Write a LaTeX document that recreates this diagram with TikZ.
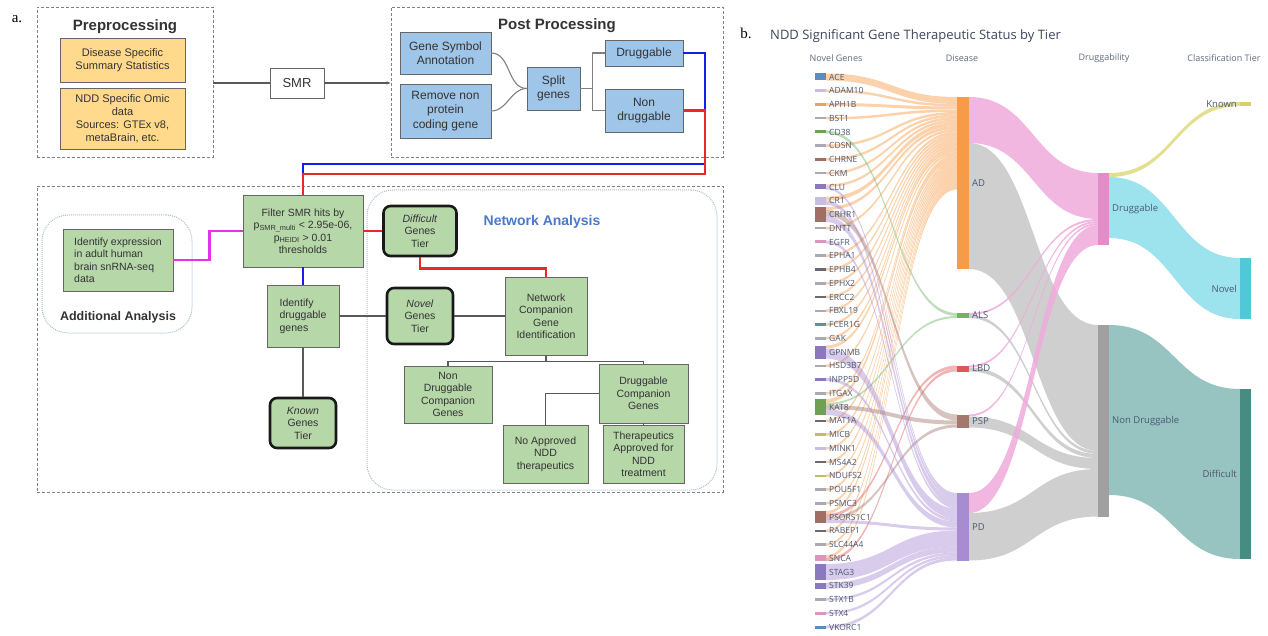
\documentclass[tikz,border=0pt]{standalone}
\usepackage{fontspec}
\setmainfont{Liberation Sans}
\newfontfamily\plotfont{Open Sans}
\newfontfamily\panelfont{Liberation Serif}
\usetikzlibrary{positioning,calc,arrows.meta}

\definecolor{preyellow}{RGB}{255,217,140}
\definecolor{postblue}{RGB}{159,197,232}
\definecolor{stepgreen}{RGB}{182,215,168}
\definecolor{netblue}{RGB}{74,120,205}
\definecolor{zoneblue}{RGB}{170,190,210}
\definecolor{wireblue}{RGB}{20,30,230}
\definecolor{wirered}{RGB}{235,40,40}
\definecolor{wiremagenta}{RGB}{230,50,230}
\definecolor{plottext}{RGB}{75,88,115}
\definecolor{plothead}{RGB}{95,105,125}
% sankey nodes
\definecolor{adc}{RGB}{246,156,72}
\definecolor{alsc}{RGB}{110,180,100}
\definecolor{lbdc}{RGB}{222,90,90}
\definecolor{pspc}{RGB}{165,120,110}
\definecolor{pdc}{RGB}{168,140,210}
\definecolor{drugc}{RGB}{228,140,200}
\definecolor{ndc}{RGB}{160,160,160}
\definecolor{knownc}{RGB}{215,205,110}
\definecolor{novelc}{RGB}{80,200,215}
\definecolor{diffc}{RGB}{70,140,130}
% sankey links
\definecolor{druglink}{RGB}{238,170,220}
\definecolor{ndlink}{RGB}{195,195,195}
\definecolor{knownlink}{RGB}{225,220,130}
\definecolor{novellink}{RGB}{140,222,235}
\definecolor{difflink}{RGB}{140,190,185}
% gene bars
\definecolor{gblue}{RGB}{91,141,190}
\definecolor{glav}{RGB}{200,190,225}
\definecolor{gorange}{RGB}{240,160,90}
\definecolor{ggray}{RGB}{170,170,180}
\definecolor{gdark}{RGB}{105,105,115}
\definecolor{ggreen}{RGB}{110,160,85}
\definecolor{gbrown}{RGB}{160,110,100}
\definecolor{gpurple}{RGB}{140,120,190}
\definecolor{gpink}{RGB}{220,150,190}
\definecolor{golive}{RGB}{190,190,100}
\definecolor{gteal}{RGB}{90,150,150}

% x1, top1, bottom1, x2, top2, bottom2, colour, opacity
\newcommand{\flowband}[8]{%
  \fill[fill=#7, fill opacity=#8] (#1,#2) .. controls ({(#1+#4)/2},#2) and ({(#1+#4)/2},#5) .. (#4,#5)
    -- (#4,#6) .. controls ({(#1+#4)/2},#6) and ({(#1+#4)/2},#3) .. (#1,#3) -- cycle;}

\begin{document}
\begin{tikzpicture}[x=1pt, y=-1pt,
  dashframe/.style={draw=black!50, densely dashed, line width=0.9pt},
  dotzone/.style={draw=zoneblue, densely dotted, line width=1pt, rounded corners=26pt},
  boxtext/.style={align=center, text=black!80, font=\fontsize{10.5}{12.5}\selectfont, inner sep=2pt},
  prebox/.style={boxtext, draw=black!60, fill=preyellow, font=\fontsize{11}{13}\selectfont},
  postbox/.style={boxtext, draw=black!60, fill=postblue, font=\fontsize{12}{14.5}\selectfont},
  stepbox/.style={boxtext, draw=black!60, fill=stepgreen},
  tierbox/.style={stepbox, draw=black!90, line width=2.6pt, rounded corners=7pt},
  headtext/.style={font=\bfseries\fontsize{15}{18}\selectfont, text=black!80},
  wire/.style={draw=black!65, line width=1.1pt},
  blueline/.style={draw=wireblue, line width=2.4pt},
  redline/.style={draw=wirered, line width=2.4pt},
  pinkline/.style={draw=wiremagenta, line width=2.8pt},
  genelab/.style={anchor=west, inner sep=0pt, text=plottext, font=\plotfont\fontsize{8.5}{9}\selectfont},
  plotlab/.style={inner sep=0pt, text=plottext, font=\plotfont\fontsize{9.5}{10}\selectfont},
  colhead/.style={plotlab, text=plothead, font=\plotfont\fontsize{9}{10}\selectfont},
]
\useasboundingbox (0,0) rectangle (1268,636);

% ===== a. WORKFLOW =====
\node[font=\panelfont\fontsize{15}{18}\selectfont] (alabel) at (17,19) {a.};

\node[dashframe, minimum width=176pt, minimum height=150pt] (preframe) at (125,82) {};
\node[dashframe, minimum width=332pt, minimum height=150pt] (postframe) at (557,82) {};
\node[dashframe, minimum width=686pt, minimum height=306pt] (mainframe) at (380,339) {};
\node[dotzone, minimum width=150pt, minimum height=118pt] (addzone) at (117,274) {};
\node[dotzone, minimum width=350pt, minimum height=300pt] (netzone) at (542,340) {};

\node[headtext] (pretitle) at (125,27) {Preprocessing};
\node[headtext] (posttitle) at (557,26) {Post Processing};
\node[headtext, font=\bfseries\fontsize{12.5}{15}\selectfont] (addtitle) at (118,317) {Additional Analysis};
\node[headtext, text=netblue, font=\bfseries\fontsize{14}{17}\selectfont] (nettitle) at (542,222) {Network Analysis};

% preprocessing
\node[prebox, minimum width=125pt, minimum height=44pt] (sumstats) at (122.5,60) {Disease Specific\\Summary Statistics};
\node[prebox, minimum width=125pt, minimum height=61pt] (omic) at (122.5,118.5) {NDD Specific Omic\\data\\Sources: GTEx v8,\\metaBrain, etc.};
\node[boxtext, draw=black!60, font=\fontsize{13}{15}\selectfont, minimum width=54pt, minimum height=30pt] (smr) at (297,83) {SMR};

% post processing
\node[postbox, minimum width=91pt, minimum height=42pt] (gsa) at (445.5,53) {Gene Symbol\\Annotation};
\node[postbox, minimum width=91pt, minimum height=54pt] (rmnc) at (445.5,111) {Remove non\\protein\\coding gene};
\node[postbox, minimum width=53pt, minimum height=43pt] (split) at (553.5,88.5) {Split\\genes};
\node[postbox, minimum width=78pt, minimum height=26pt] (drug) at (644,53) {Druggable};
\node[postbox, minimum width=78pt, minimum height=43pt] (nondrug) at (644,110.5) {Non\\druggable};

% filtering and tiers
\node[stepbox, align=left, minimum width=110pt, minimum height=62pt] (expr) at (118,260) {Identify expression\\in adult human\\brain snRNA-seq\\data};
\node[stepbox, minimum width=120pt, minimum height=72pt] (filter) at (303,231) {Filter SMR hits by\\p\textsubscript{SMR\_multi} < 2.95e-06,\\p\textsubscript{HEIDI} > 0.01\\thresholds};
\node[tierbox, minimum width=73pt, minimum height=50pt] (difficult) at (420,231) {\textit{Difficult}\\Genes\\Tier};
\node[stepbox, align=left, minimum width=72pt, minimum height=62pt] (idrug) at (303,316) {Identify\\druggable\\genes};
\node[tierbox, minimum width=66pt, minimum height=56pt] (novel) at (420,316) {\textit{Novel}\\Genes\\Tier};
\node[stepbox, minimum width=82pt, minimum height=78pt] (netcomp) at (546,316) {Network\\Companion\\Gene\\Identification};
\node[tierbox, minimum width=66pt, minimum height=50pt] (known) at (303,423) {\textit{Known}\\Genes\\Tier};
\node[stepbox, minimum width=88pt, minimum height=57pt] (ndcomp) at (448,394.5) {Non\\Druggable\\Companion\\Genes};
\node[stepbox, minimum width=89pt, minimum height=59pt] (dcomp) at (643.5,393.5) {Druggable\\Companion\\Genes};
\node[stepbox, minimum width=85pt, minimum height=58pt] (noappr) at (545.5,454) {No Approved\\NDD\\therapeutics};
\node[stepbox, minimum width=81pt, minimum height=58pt] (therap) at (643.5,454) {Therapeutics\\Approved for\\NDD\\treatment};

% connectors
\draw[wire] (preframe.east |- smr.west) -- (smr.west);
\draw[wire, -{Stealth[length=4pt]}] (smr.east) -- (postframe.west |- smr.east);
\draw[wire, draw=black!50] (gsa.east) to[out=0, in=180] (split.west);
\draw[wire, draw=black!50] (rmnc.east) to[out=0, in=180] (split.west);
\draw[wire, draw=black!50] (split.east) -- ++(12,0) |- (drug.west);
\draw[wire, draw=black!50] (split.east) -- ++(12,0) |- (nondrug.west);
\draw[blueline] (drug.east) -| (705,164) -| (filter.north);
\draw[redline] (nondrug.east) -| (705,174) -| (filter.north);
\draw[pinkline] (expr.east) -- ++(36,0) |- (filter.west);
\draw[redline] (filter.east) -- (difficult.west);
\draw[blueline] (filter.south) -- (idrug.north);
\draw[redline] (difficult.south) -- ++(0,11) -| (netcomp.north);
\draw[wire] (idrug.east) -- (novel.west);
\draw[wire] (novel.east) -- (netcomp.west);
\draw[wire] (idrug.south) -- (known.north);
\draw[wire] (netcomp.south) -- ++(0,6) coordinate (treej);
\draw[wire] (ndcomp.north) |- (treej) -| (dcomp.north);
\draw[wire] (dcomp.west) -| (noappr.north);
\draw[wire] (dcomp.south) -- (therap.north);

% ===== b. SANKEY =====
\node[font=\panelfont\fontsize{15}{18}\selectfont] (blabel) at (746,33) {b.};
\node[plotlab, anchor=west, text=plottext!80!black, font=\plotfont\fontsize{13}{15}\selectfont] (ptitle) at (770,36) {NDD Significant Gene Therapeutic Status by Tier};
\node[colhead] (hgenes) at (836,58) {Novel Genes};
\node[colhead] (hdisease) at (962,58) {Disease};
\node[colhead] (hdrug) at (1104,58) {Druggability};
\node[colhead] (htier) at (1224,58) {Classification Tier};

% gene -> disease links: gene/bar height/offset/width/target top/colour
\foreach \i/\h/\o/\w/\t/\c in {
  1/7/0/7/97/adc, 2/2.5/0/2.5/104/adc, 3/3/0/3/106.5/adc, 4/2.5/0/2.5/109.5/adc,
  6/2.5/0/2.5/112/adc, 7/2.5/0/2.5/114.5/adc, 8/2.5/0/2.5/117/adc, 9/5/0/2.5/119.5/adc,
  10/8/0/4/122/adc, 11/15/0/3/126/adc, 12/2.5/0/2.5/129/adc, 14/2.5/0/2.5/131.5/adc,
  15/2.5/0/2.5/134/adc, 16/2.5/0/2.5/136.5/adc, 17/2.5/0/2.5/139/adc, 18/2.5/0/2.5/141.5/adc,
  19/2.5/0/2.5/144/adc, 20/2.5/0/2.5/146.5/adc, 21/13/0/3/149/adc, 22/2.5/0/2.5/152/adc,
  24/2.5/0/2.5/154.5/adc, 25/16/0/4/157/adc, 26/2.5/0/2.5/161/adc, 27/2.5/0/2.5/163.5/adc,
  28/2.5/0/2.5/166/adc, 29/2.5/0/2.5/168.5/adc, 30/2.5/0/2.5/171/adc, 31/2.5/0/2.5/173.5/adc,
  32/2.5/0/2.5/176/adc, 33/12/0/3/178.5/adc, 34/2.5/0/2.5/181.5/adc, 35/2.5/0/2.5/184/adc,
  36/6/0/3/186.5/adc,
  5/3/0/3/313/alsc, 25/16/4/2/316/alsc,
  33/12/3/3/365.5/lbdc, 36/6/3/3/368.5/lbdc,
  11/15/3/6/414.5/pspc, 25/16/6/4/420.5/pspc, 33/12/6/3/424.5/pspc,
  9/5/2.5/2.5/493/pdc, 10/8/4/4/495.5/pdc, 11/15/9/6/499.5/pdc, 13/3/0/3/505.5/pdc,
  21/13/3/10/508.5/pdc, 23/3/0/3/518.5/pdc, 25/16/10/6/521.5/pdc, 33/12/9/3/527.5/pdc,
  37/16/0/16/530.5/pdc, 38/6/0/6/546.5/pdc, 39/2.5/0/2.5/552.5/pdc, 40/2.5/0/2.5/555/pdc,
  41/3/0/3/557.5/pdc}{
  \pgfmathsetmacro\ys{77+(\i-1)*13.75-\h/2+\o}
  \pgfmathsetmacro\ye{\ys+\w}
  \pgfmathsetmacro\te{\t+\w}
  \flowband{826}{\ys}{\ye}{957}{\t}{\te}{\c}{0.45}
}

% disease -> druggability
\flowband{969}{97}{143}{1098}{173}{219}{druglink}{0.85}
\flowband{969}{143}{269}{1098}{325}{451}{ndlink}{0.8}
\flowband{969}{313}{315}{1098}{219}{221}{druglink}{0.85}
\flowband{969}{315}{318}{1098}{451}{454}{ndlink}{0.8}
\flowband{969}{365.5}{367.5}{1098}{221}{223}{druglink}{0.85}
\flowband{969}{367.5}{371.5}{1098}{454}{458}{ndlink}{0.8}
\flowband{969}{414.5}{416.5}{1098}{223}{225}{druglink}{0.85}
\flowband{969}{416.5}{427.5}{1098}{458}{469}{ndlink}{0.8}
\flowband{969}{493}{513}{1098}{225}{245}{druglink}{0.85}
\flowband{969}{513}{560.5}{1098}{469}{516.5}{ndlink}{0.8}
% druggability -> tier
\flowband{1109}{173}{177}{1240}{102}{106}{knownlink}{0.9}
\flowband{1109}{177}{238}{1240}{258}{319}{novellink}{0.85}
\flowband{1109}{325}{495}{1240}{389}{559}{difflink}{0.9}

% gene bars and names
\foreach \i/\gname/\h/\c in {
  1/ACE/7/gblue, 2/ADAM10/2.5/glav, 3/APH1B/3/gorange, 4/BST1/2.5/ggray,
  5/CD38/3/ggreen, 6/CDSN/2.5/ggray, 7/CHRNE/2.5/gbrown, 8/CKM/2.5/ggray,
  9/CLU/5/gpurple, 10/CR1/8/glav, 11/CRHR1/15/gbrown, 12/DNTT/2.5/ggray,
  13/EGFR/3/gpink, 14/EPHA1/2.5/ggray, 15/EPHB4/2.5/gdark, 16/EPHX2/2.5/ggray,
  17/ERCC2/2.5/gdark, 18/FBXL19/2.5/ggray, 19/FCER1G/2.5/gteal, 20/GAK/2.5/ggray,
  21/GPNMB/13/gpurple, 22/HSD3B7/2.5/ggray, 23/INPP5D/3/gpurple, 24/ITGAX/2.5/ggray,
  25/KAT8/16/ggreen, 26/MAT1A/2.5/gdark, 27/MICB/2.5/golive, 28/MINK1/2.5/glav,
  29/MS4A2/2.5/gdark, 30/NDUFS2/2.5/golive, 31/POU5F1/2.5/ggray, 32/PSMC3/2.5/ggray,
  33/PSORS1C1/12/gbrown, 34/RABEP1/2.5/gdark, 35/SLC44A4/2.5/ggray, 36/SNCA/6/gpink,
  37/STAG3/16/gpurple, 38/STK39/6/gpurple, 39/STX1B/2.5/ggray, 40/STX4/2.5/gpink,
  41/VKORC1/3/gblue}{
  \pgfmathsetmacro\yc{77+(\i-1)*13.75}
  \fill[fill=\c] (815,{\yc-\h/2}) rectangle (826,{\yc+\h/2});
  \node[genelab] (gene\i) at (829,\yc) {\gname};
}

% disease, druggability and tier nodes
\fill[adc] (957,97) rectangle (969,269);
\fill[alsc] (957,313) rectangle (969,318);
\fill[lbdc] (957,365.5) rectangle (969,371.5);
\fill[pspc] (957,414.5) rectangle (969,427.5);
\fill[pdc] (957,493) rectangle (969,560.5);
\fill[drugc] (1098,173) rectangle (1109,245);
\fill[ndc] (1098,325) rectangle (1109,516.5);
\fill[knownc] (1240,102) rectangle (1251,106);
\fill[novelc] (1240,258) rectangle (1251,319);
\fill[diffc] (1240,389) rectangle (1251,559);

\node[plotlab, anchor=west] (ad) at (972,183) {AD};
\node[plotlab, anchor=west] (als) at (972,315.5) {ALS};
\node[plotlab, anchor=west] (lbd) at (972,368.5) {LBD};
\node[plotlab, anchor=west] (psp) at (972,421) {PSP};
\node[plotlab, anchor=west] (pd) at (972,527) {PD};
\node[plotlab, anchor=west] (druglab) at (1112,209) {Druggable};
\node[plotlab, anchor=west] (ndlab) at (1112,421) {Non Druggable};
\node[plotlab, anchor=east] (knownlab) at (1237,104) {Known};
\node[plotlab, anchor=east] (novellab) at (1237,289) {Novel};
\node[plotlab, anchor=east] (difflab) at (1237,474) {Difficult};
\end{tikzpicture}
\end{document}
